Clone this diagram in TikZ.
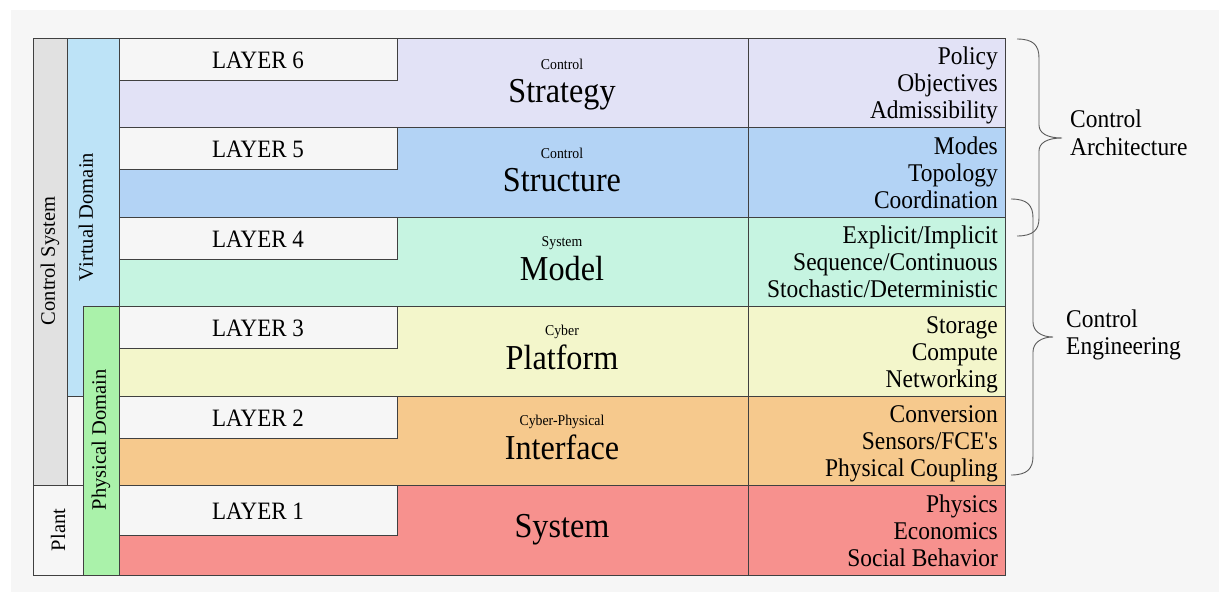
\documentclass[tikz,border=0pt]{standalone}
\usepackage{fontspec}
\setmainfont{Liberation Serif}[FakeStretch=0.92, Ligatures=TeXOff]
\newfontfamily\sidefont{Liberation Serif}
\definecolor{pagegray}{HTML}{F6F6F6}
\definecolor{edge}{HTML}{404040}
\definecolor{bracegray}{HTML}{5A5A5A}
\definecolor{sysgray}{HTML}{E1E1E1}
\definecolor{plantgray}{HTML}{F6F6F6}
\definecolor{virtblue}{HTML}{BDE3F7}
\definecolor{physgreen}{HTML}{AAF2AA}
\definecolor{labelgray}{HTML}{F6F6F6}
\definecolor{colL6}{HTML}{E2E2F6}
\definecolor{colL5}{HTML}{B3D3F5}
\definecolor{colL4}{HTML}{C6F4E1}
\definecolor{colL3}{HTML}{F3F6CB}
\definecolor{colL2}{HTML}{F6C98D}
\definecolor{colL1}{HTML}{F7918E}
\tikzset{
  box/.style={draw=edge, line width=0.9pt},
  layertxt/.style={font=\fontsize{25}{28}\selectfont, inner sep=0pt},
  smalltxt/.style={font=\fontsize{15}{17}\selectfont, inner sep=0pt, anchor=center},
  bigtxt/.style={font=\fontsize{35}{38}\selectfont, inner sep=0pt, anchor=base},
  righttxt/.style={font=\fontsize{25.5}{27}\selectfont, inner sep=0pt, anchor=base east},
  sidetxt/.style={font=\sidefont\fontsize{20.5}{23}\selectfont, inner sep=0pt, rotate=90},
  bracetxt/.style={font=\fontsize{25.5}{27}\selectfont, inner sep=0pt, anchor=base west},
  bracepath/.style={draw=bracegray, line width=0.9pt},
}
\begin{document}
\begin{tikzpicture}[x=1pt,y=-1pt]
  % canvas
  \fill[white] (0,0) rectangle (1219,592);
  \fill[pagegray] (11,10) rectangle (1219,592);
  \useasboundingbox (0,0) rectangle (1219,592);

  % side columns
  \draw[box, fill=sysgray] (33,38) rectangle (67,485);
  \draw[box, fill=plantgray] (33,485) rectangle (83,575);
  \draw[box, fill=virtblue] (67,38) rectangle (119,396);
  \draw[box, fill=physgreen] (83,306) rectangle (119,575);

  % layer rows: top / bottom / label-box bottom / colour / index
  \foreach \t/\b/\lb/\c/\n in {38/127.5/80/colL6/6, 127.5/217/169/colL5/5,
      217/306/259/colL4/4, 306/396/348/colL3/3, 396/485/438/colL2/2,
      485/575/535/colL1/1}{
    \draw[box, fill=\c] (119,\t) rectangle (748,\b);
    \draw[box, fill=\c] (748,\t) rectangle (1005,\b);
    \draw[box, fill=labelgray] (119,\t) rectangle (397,\lb);
    \node[layertxt] (lay\n) at (258,{(\t+\lb)/2+1}) {LAYER \n};
  }

  % side labels
  \node[sidetxt] (ctrlsys) at (50,261) {Control System};
  \node[sidetxt] (virtdom) at (86,217) {Virtual Domain};
  \node[sidetxt] (physdom) at (101,440) {Physical Domain};
  \node[sidetxt] (plant) at (58,530) {Plant};

  % middle column titles
  \node[smalltxt] (sub6) at (562,64) {Control};
  \node[bigtxt]   (tit6) at (562,102) {Strategy};
  \node[smalltxt] (sub5) at (562,153.5) {Control};
  \node[bigtxt]   (tit5) at (562,191) {Structure};
  \node[smalltxt] (sub4) at (562,243) {System};
  \node[bigtxt]   (tit4) at (562,280.5) {Model};
  \node[smalltxt] (sub3) at (562,332) {Cyber};
  \node[bigtxt]   (tit3) at (562,369.5) {Platform};
  \node[smalltxt] (sub2) at (562,422) {Cyber-Physical};
  \node[bigtxt]   (tit2) at (562,459.5) {Interface};
  \node[bigtxt]   (tit1) at (562,537) {System};

  % right column attributes
  \node[righttxt] (r6a) at (998,64) {Policy};
  \node[righttxt] (r6b) at (998,91) {Objectives};
  \node[righttxt] (r6c) at (998,118) {Admissibility};
  \node[righttxt] (r5a) at (998,154) {Modes};
  \node[righttxt] (r5b) at (998,181) {Topology};
  \node[righttxt] (r5c) at (998,208) {Coordination};
  \node[righttxt] (r4a) at (998,243) {Explicit/Implicit};
  \node[righttxt] (r4b) at (998,270) {Sequence/Continuous};
  \node[righttxt] (r4c) at (998,297) {Stochastic/Deterministic};
  \node[righttxt] (r3a) at (998,333) {Storage};
  \node[righttxt] (r3b) at (998,360) {Compute};
  \node[righttxt] (r3c) at (998,387) {Networking};
  \node[righttxt] (r2a) at (998,422) {Conversion};
  \node[righttxt] (r2b) at (998,449) {Sensors/FCE's};
  \node[righttxt] (r2c) at (998,476) {Physical Coupling};
  \node[righttxt] (r1a) at (998,512) {Physics};
  \node[righttxt] (r1b) at (998,539) {Economics};
  \node[righttxt] (r1c) at (998,566) {Social Behavior};

  % braces
  \coordinate (archtop) at (1017,39);
  \coordinate (archtip) at (1062,138);
  \coordinate (archbot) at (1017,236);
  \path[bracepath] (archtop) .. controls (1033,39) and (1039,45) .. (1039,58)
    -- (1039,125) .. controls (1039,133) and (1047,138) .. (archtip)
    .. controls (1047,138) and (1039,143) .. (1039,151)
    -- (1039,218) .. controls (1039,230) and (1033,236) .. (archbot);
  \coordinate (engtop) at (1011,199);
  \coordinate (engtip) at (1053,337);
  \coordinate (engbot) at (1011,475);
  \path[bracepath] (engtop) .. controls (1027,199) and (1033,205) .. (1033,218)
    -- (1033,322) .. controls (1033,331) and (1041,337) .. (engtip)
    .. controls (1041,337) and (1033,343) .. (1033,352)
    -- (1033,456) .. controls (1033,469) and (1027,475) .. (engbot);

  \node[bracetxt] (arch1) at (1070,127.5) {Control};
  \node[bracetxt] (arch2) at (1070,155) {Architecture};
  \node[bracetxt] (eng1) at (1066,327.5) {Control};
  \node[bracetxt] (eng2) at (1066,354.5) {Engineering};
\end{tikzpicture}
\end{document}
